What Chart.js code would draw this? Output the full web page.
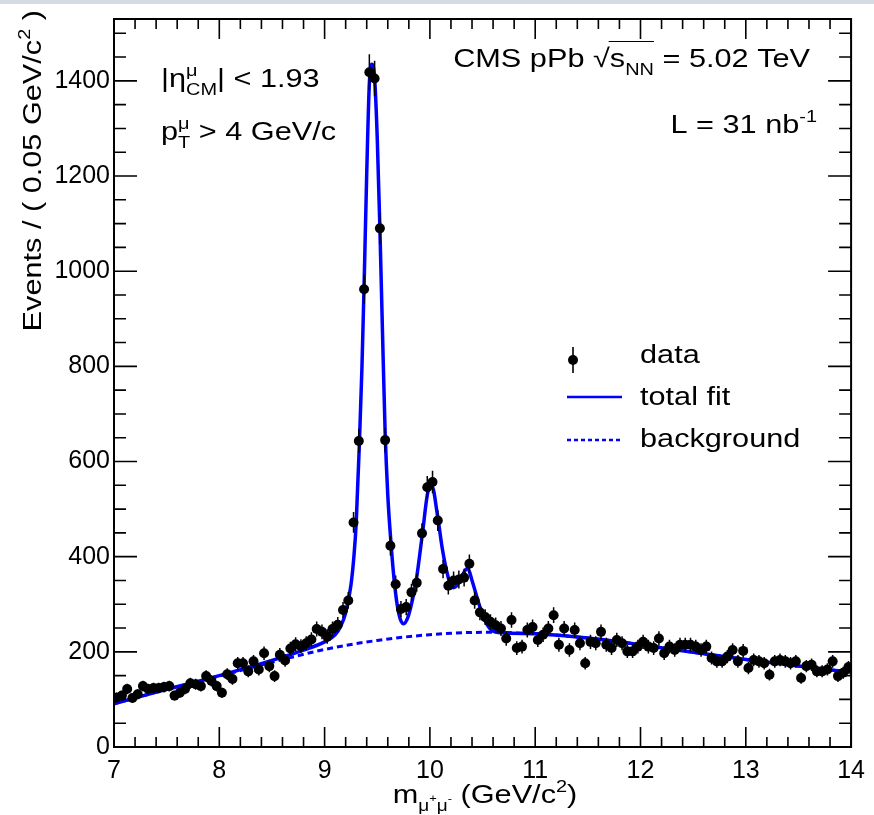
<!DOCTYPE html>
<html><head><meta charset="utf-8">
<script src="https://cdn.jsdelivr.net/npm/chart.js@4.4.1/dist/chart.umd.min.js"></script>
<style>html,body{margin:0;padding:0;background:#fff;overflow:hidden}#wrap{width:874px;height:815px;position:relative}</style>
</head><body><div id="wrap"><canvas id="c" width="874" height="815"></canvas></div>
<script>
// ---- binning (0.05 GeV bins from 7 to 14) ----
const binLow = 7.0, binWidth = 0.05, nBins = 140;
const massBins = Array.from({length: nBins}, (_, i) => +(binLow + binWidth * (i + 0.5)).toFixed(3));

// ---- data: events per bin ----
const eventCounts = [
 104,108,122,103,111,128,122,124,124,126,
 128,108,114,122,134,132,128,149,139,128,
 114,153,143,176,176,159,180,163,197,170,
 149,194,182,207,216,212,218,226,248,242,
 232,248,257,288,308,472,643,962,1418,1405,
 1090,645,423,342,290,294,325,345,449,546,
 557,476,374,339,350,352,356,385,308,283,
 273,263,256,249,228,267,208,211,246,252,
 225,236,249,277,215,249,204,246,218,176,
 221,218,242,215,208,225,218,201,201,211,
 221,211,208,228,197,211,204,215,215,215,
 211,204,211,187,180,180,190,204,180,202,
 166,183,180,176,152,180,183,180,176,180,
 145,170,173,159,159,163,180,149,156,168
];

// ---- total fit curve ----
const fitMass = [7.00,7.50,8.00,8.50,8.75,9.00,9.10,9.15,9.20,9.25,9.28,9.30,9.33,9.355,9.375,9.40,9.425,9.45,9.475,9.50,9.525,9.55,9.575,9.60,9.63,9.66,9.69,9.72,9.75,9.79,9.83,9.87,9.93,9.98,10.02,10.07,10.12,10.17,10.21,10.25,10.29,10.34,10.36,10.40,10.47,10.53,10.59,10.69,11.00,11.50,12.00,12.50,13.00,13.50,14.00];
const fitValues = [91,121,150,182,200,221,236,252,282,340,405,470,635,800,970,1205,1395,1435,1405,1280,1090,870,660,530,430,352,298,268,259,272,305,350,450,535,548,490,414,360,335,338,352,373,375,350,298,263,245,240,238,229,215,199,184,170,157];

// ---- background curve ----
const bkgMass = [7.0,7.5,8.0,8.5,9.0,9.5,10.0,10.5,11.0,11.5,12.0,12.5,13.0,13.5,14.0];
const bkgValues = [91,121,149,178,205,224,236,241,238,229,215,199,184,170,157];

// ---- tick labels ----
const xTickValues = [7,8,9,10,11,12,13,14];
const yTickValues = [0,200,400,600,800,1000,1200,1400];
const xMinorStep = 0.2, yMinorStep = 50;

const FONT = '"Liberation Sans", Arial, Helvetica, sans-serif';
const BLUE = '#0000ff';

function layoutRich(ctx, parts, size){
  let w = 0; const items = []; const marks = {};
  for (const p of parts){
    const start = w;
    if (p.t !== undefined){
      ctx.font = `${size}px ${FONT}`;
      const pw = ctx.measureText(p.t).width;
      items.push({x:w, text:p.t, size, dy:0}); w += pw;
    } else {
      const s = size * (p.scale || 0.65); ctx.font = `${s}px ${FONT}`; let mw = 0;
      if (p.sup !== undefined){ const sw = ctx.measureText(p.sup).width; items.push({x:w+(p.supDx||0), text:p.sup, size:s, dy:-size*(p.supY||0.42)}); mw = Math.max(mw, sw+(p.supDx||0)); }
      if (p.sub !== undefined){ const sw = ctx.measureText(p.sub).width; items.push({x:w, text:p.sub, size:s, dy:size*(p.subY||0.32)}); mw = Math.max(mw, sw); }
      w += mw + (p.gap || 0);
    }
    if (p.mark) marks[p.mark] = [start, w];
  }
  return {w, items, marks};
}
function drawRich(ctx, x, y, parts, opt){
  const o = Object.assign({size:26, align:'left', hs:1.18}, opt || {});
  const L = layoutRich(ctx, parts, o.size);
  ctx.save(); ctx.translate(x, y); if (o.rot) ctx.rotate(o.rot); ctx.scale(o.hs, 1);
  const x0 = o.align === 'right' ? -L.w : (o.align === 'center' ? -L.w/2 : 0);
  ctx.textBaseline = 'alphabetic'; ctx.textAlign = 'left'; ctx.fillStyle = '#000';
  for (const it of L.items){ ctx.font = `${it.size}px ${FONT}`; ctx.fillText(it.text, x0 + it.x, it.dy); }
  if (o.overline && L.marks[o.overline[0]] && L.marks[o.overline[1]]){
    ctx.strokeStyle = '#000'; ctx.lineWidth = 1.2;
    ctx.beginPath(); ctx.moveTo(x0 + L.marks[o.overline[0]][0] - 1, -o.size*0.98); ctx.lineTo(x0 + L.marks[o.overline[1]][1], -o.size*0.98); ctx.stroke();
  }
  ctx.restore();
}

const decor = {
  id: 'decor',
  beforeDraw(chart){
    const ctx = chart.ctx; ctx.save();
    ctx.fillStyle = '#fff'; ctx.fillRect(0, 0, chart.width, chart.height);
    ctx.fillStyle = '#d6dbe3'; ctx.fillRect(0, 0, chart.width, 4);
    ctx.restore();
  },
  afterDatasetsDraw(chart){
    const {ctx, scales:{x, y}} = chart;
    // statistical error bars of the data points
    ctx.save(); ctx.strokeStyle = '#000'; ctx.lineWidth = 1.5;
    massBins.forEach((m, i) => {
      const c = eventCounts[i], e = Math.sqrt(c);
      const px = x.getPixelForValue(m), py = y.getPixelForValue(c);
      ctx.beginPath();
      ctx.moveTo(px, y.getPixelForValue(c - e)); ctx.lineTo(px, y.getPixelForValue(c + e));
      ctx.moveTo(x.getPixelForValue(m - binWidth/2), py); ctx.lineTo(x.getPixelForValue(m + binWidth/2), py);
      ctx.stroke();
    });
    ctx.restore();
  },
  afterDraw(chart){
    const {ctx, chartArea:a, scales:{x, y}} = chart;
    ctx.save();
    ctx.strokeStyle = '#000'; ctx.lineWidth = 2;
    ctx.strokeRect(a.left, a.top, a.right - a.left, a.bottom - a.top);
    ctx.lineWidth = 1.6;
    ctx.beginPath();
    const nx = Math.round((x.max - x.min) / xMinorStep);
    for (let k = 0; k <= nx; k++){
      const v = x.min + k * xMinorStep, px = x.getPixelForValue(v);
      const len = (k % 5 === 0) ? 20 : 10;
      ctx.moveTo(px, a.bottom); ctx.lineTo(px, a.bottom - len);
      ctx.moveTo(px, a.top); ctx.lineTo(px, a.top + len);
    }
    for (let v = 0; v <= y.max; v += yMinorStep){
      const py = y.getPixelForValue(v);
      const len = (v % 200 === 0) ? 23 : 12;
      ctx.moveTo(a.left, py); ctx.lineTo(a.left + len, py);
      ctx.moveTo(a.right, py); ctx.lineTo(a.right - len, py);
    }
    ctx.stroke();

    // axis titles
    drawRich(ctx, 485, 803, [{t:'m'}, {sub:'\u03bc', scale:0.62, subY:0.3}, {sup:'+', scale:0.42, supY:0.05}, {sub:'\u03bc', scale:0.62, subY:0.3}, {sup:'-', scale:0.42, supY:0.05}, {t:' (GeV/c'}, {sup:'2'}, {t:')'}], {align:'center'});
    drawRich(ctx, 41, 10, [{t:'Events / ( 0.05 GeV/c'}, {sup:'2'}, {t:' )'}], {align:'right', rot:-Math.PI/2});

    // annotations
    drawRich(ctx, 161, 87, [{t:'|\u03b7'}, {sup:'\u03bc', sub:'CM'}, {t:'| < 1.93'}]);
    drawRich(ctx, 161, 140, [{t:'p'}, {sup:'\u03bc', sub:'T'}, {t:' > 4 GeV/c'}]);
    drawRich(ctx, 810, 67, [{t:'CMS pPb '}, {t:'\u221a', mark:'rad'}, {t:'s', mark:'s'}, {sub:'NN', mark:'nn'}, {t:' = 5.02 TeV'}], {align:'right', overline:['s','nn']});
    drawRich(ctx, 817, 133, [{t:'L = 31 nb'}, {sup:'-1'}], {align:'right'});

    // legend
    ctx.fillStyle = '#000'; ctx.strokeStyle = '#000'; ctx.lineWidth = 1.6;
    ctx.beginPath(); ctx.moveTo(573, 347); ctx.lineTo(573, 373); ctx.stroke();
    ctx.beginPath(); ctx.arc(573, 360, 5, 0, Math.PI*2); ctx.fill();
    ctx.strokeStyle = BLUE; ctx.lineWidth = 2.5;
    ctx.beginPath(); ctx.moveTo(567, 397); ctx.lineTo(622, 397); ctx.stroke();
    ctx.setLineDash([4, 3]);
    ctx.beginPath(); ctx.moveTo(567, 440); ctx.lineTo(622, 440); ctx.stroke();
    ctx.setLineDash([]);
    drawRich(ctx, 640, 363, [{t:'data'}]);
    drawRich(ctx, 640, 405, [{t:'total fit'}]);
    drawRich(ctx, 640, 447, [{t:'background'}]);
    ctx.restore();
  }
};

new Chart(document.getElementById('c'), {
  type: 'line',
  data: {
    datasets: [
      {label:'data', data: massBins.map((m, i) => ({x:m, y:eventCounts[i]})), showLine:false,
       pointRadius:5, pointBackgroundColor:'#000', pointBorderColor:'#000', pointBorderWidth:0, order:0},
      {label:'total fit', data: fitMass.map((m, i) => ({x:m, y:fitValues[i]})), showLine:true, pointRadius:0,
       borderColor:BLUE, borderWidth:3.5, cubicInterpolationMode:'monotone', fill:false, order:1},
      {label:'background', data: bkgMass.map((m, i) => ({x:m, y:bkgValues[i]})), showLine:true, pointRadius:0,
       borderColor:BLUE, borderWidth:3, borderDash:[6,4], cubicInterpolationMode:'monotone', fill:false, order:2}
    ]
  },
  options: {
    responsive:false, animation:false, events:[],
    layout:{padding:{top:8, right:22, left:0, bottom:0}},
    plugins:{legend:{display:false}, tooltip:{enabled:false}},
    scales:{
      x:{type:'linear', min:7, max:14,
         grid:{display:false, drawTicks:false}, border:{display:false},
         ticks:{color:'#000', font:{family:FONT, size:25}, padding:9, maxRotation:0, autoSkip:false,
                callback:(v) => String(v)},
         afterBuildTicks(s){ s.ticks = xTickValues.map(v => ({value:v})); },
         afterFit(s){ s.height = 68; }},
      y:{type:'linear', min:0, max:1530,
         grid:{display:false, drawTicks:false}, border:{display:false},
         ticks:{color:'#000', font:{family:FONT, size:25}, padding:4, autoSkip:false,
                callback:(v) => String(v)},
         afterBuildTicks(s){ s.ticks = yTickValues.map(v => ({value:v})); },
         afterFit(s){ s.width = 114; }}
    }
  },
  plugins:[decor]
});
</script></body></html>
